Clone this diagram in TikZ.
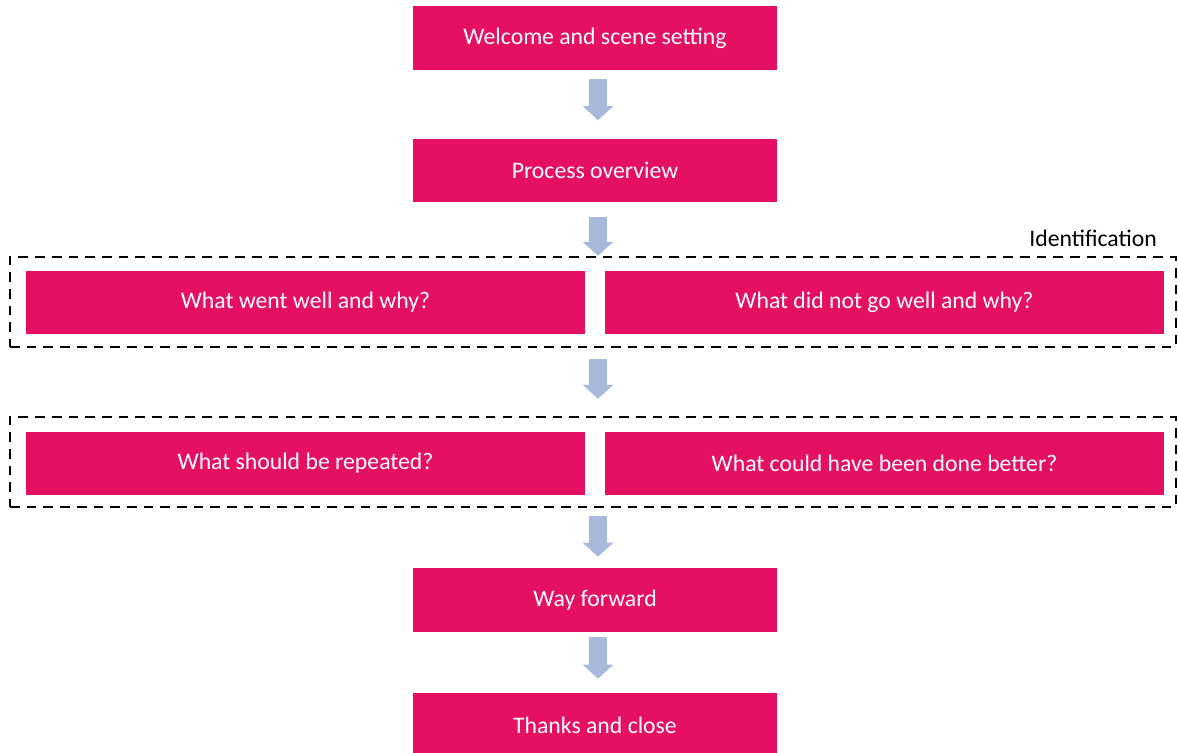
\documentclass[tikz,border=0pt]{standalone}
\usepackage{fontspec}
\setmainfont{Carlito}
\usetikzlibrary{arrows.meta}
\definecolor{stepred}{HTML}{E50F64}
\definecolor{flowblue}{HTML}{A9B9DC}
\begin{document}
\begin{tikzpicture}[x=0.02cm, y=-0.02cm,
        stepbox/.style = {fill=stepred, text=white, inner sep=0pt, minimum width=7.28cm, minimum height=1.28cm, font=\fontsize{13.5}{16}\selectfont},
        widebox/.style = {stepbox, minimum width=11.18cm, minimum height=1.26cm},
        groupbox/.style = {draw, line width=1.4pt, dash pattern=on 5.5pt off 4pt, inner sep=0pt, minimum width=23.32cm, minimum height=1.8cm},
        flow/.style = {draw=flowblue, line width=0.36cm, -{Triangle[width=0.6cm, length=0.28cm]}, flowblue}]
    \useasboundingbox (0,0) rectangle (1178,753);

    \node[stepbox] (welcome) at (595,38) {Welcome and scene setting};
    \node[stepbox] (overview) at (595,170.5) {Process overview};

    \node[groupbox] (identify) at (593,302) {};
    \node[anchor=east, font=\fontsize{13.5}{16}\selectfont] (idlabel) at (1163,238) {Identification};
    \node[widebox] (wentwell) at (305.5,302.5) {What went well and why?};
    \node[widebox] (notwell) at (884.5,302.5) {What did not go well and why?};

    \node[groupbox] (lessons) at (593,462) {};
    \node[widebox] (repeat) at (305.5,463.5) {What should be repeated?};
    \node[widebox] (better) at (884.5,463.5) {What could have been done better?};

    \node[stepbox] (forward) at (595,600) {Way forward};
    \node[stepbox] (thanks) at (595,725) {Thanks and close};

    \draw[flow] ([xshift=0.06cm, yshift=-0.18cm]welcome.south) -- ([xshift=0.06cm, yshift=0.36cm]overview.north);
    \draw[flow] ([xshift=0.06cm, yshift=-0.28cm]overview.south) -- ([xshift=0.06cm]overview.south |- identify.north);
    \draw[flow] ([xshift=0.06cm, yshift=-0.22cm]overview.south |- identify.south) -- ([xshift=0.06cm, yshift=0.34cm]overview.south |- lessons.north);
    \draw[flow] ([xshift=0.06cm, yshift=-0.16cm]forward.north |- lessons.south) -- ([xshift=0.06cm, yshift=0.22cm]forward.north);
    \draw[flow] ([xshift=0.06cm, yshift=-0.1cm]forward.south) -- ([xshift=0.06cm, yshift=0.28cm]thanks.north);
\end{tikzpicture}
\end{document}
